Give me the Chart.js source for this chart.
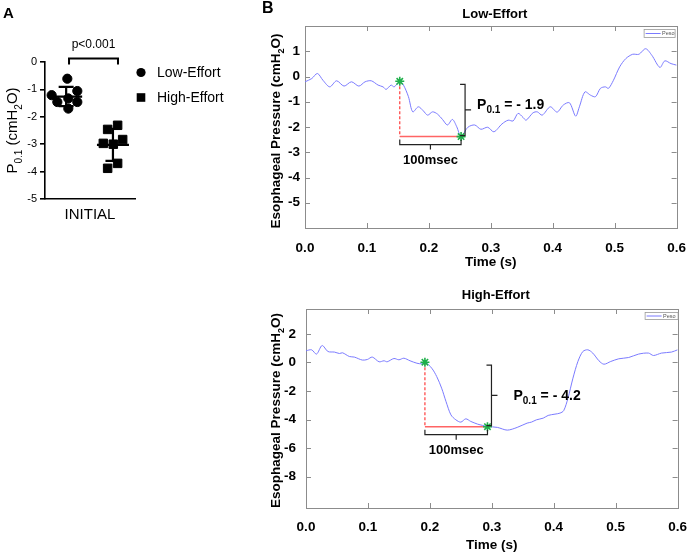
<!DOCTYPE html>
<html>
<head>
<meta charset="utf-8">
<script src="https://cdn.jsdelivr.net/npm/chart.js@4.4.1/dist/chart.umd.min.js"></script>
<style>
  body { margin: 0; background: #fff; }
  #wrap { position: relative; width: 698px; height: 558px; overflow: hidden; font-family: Arial, "Liberation Sans", sans-serif; }
  canvas { position: absolute; }
  .panel { position: absolute; font-weight: bold; color: #000; }
</style>
</head>
<body>
<div id="wrap">
  <canvas id="chartA" width="250" height="240" style="left:0;top:0"></canvas>
  <canvas id="chartLow" width="448" height="270" style="left:250px;top:0"></canvas>
  <canvas id="chartHigh" width="448" height="288" style="left:250px;top:270px"></canvas>
  <div class="panel" style="left:3px;top:4px;font-size:15px">A</div>
  <div class="panel" style="left:262px;top:-1px;font-size:16px">B</div>
</div>
<script>
var FONT = 'Arial, "Liberation Sans", Helvetica, sans-serif';

// ---- panel A: P0.1 per subject ----
var groupLabels = ['Low-Effort', 'High-Effort'];
var lowEffortP01 = [-0.61, -1.21, -1.06, -1.33, -1.46, -1.46, -1.70];
var highEffortP01 = [-2.31, -2.46, -2.83, -2.97, -3.0, -3.70, -3.88];
var lowJitterX = [0.248, 0.074, 0.359, 0.259, 0.137, 0.359, 0.259];
var highJitterX = [0.807, 0.696, 0.863, 0.648, 0.759, 0.807, 0.696];
var groupX = [0.235, 0.755];
var panelATicks = [0, -1, -2, -3, -4, -5];
var panelACategory = 'INITIAL';
var pValueText = 'p<0.001';

// ---- panel B: esophageal pressure traces ----
var timeTicks = [0, 0.1, 0.2, 0.3, 0.4, 0.5, 0.6];

var lowTime = [0, 0.011, 0.020, 0.029, 0.040, 0.051, 0.063, 0.075, 0.087, 0.097, 0.107, 0.118, 0.126, 0.131, 0.139,
  0.144, 0.153, 0.159, 0.167, 0.174, 0.183, 0.191, 0.198, 0.206, 0.214, 0.222, 0.230, 0.238, 0.245, 0.252, 0.263,
  0.274, 0.284, 0.295, 0.305, 0.318, 0.328, 0.336, 0.344, 0.352, 0.357, 0.368, 0.375, 0.383, 0.396, 0.407, 0.417,
  0.427, 0.437, 0.443, 0.452, 0.461, 0.469, 0.477, 0.485, 0.490, 0.498, 0.508, 0.518, 0.529, 0.539, 0.550, 0.560,
  0.573, 0.581, 0.591, 0.600];
var lowPeso = [-0.21, -0.08, 0.12, -0.15, -0.41, -0.17, -0.38, -0.21, -0.38, -0.21, -0.17, -0.34, -0.41, -0.51, -0.34,
  -0.41, -0.19, -0.34, -0.8, -1.4, -1.2, -1.36, -1.53, -1.4, -1.49, -1.7, -1.92, -1.7, -1.99, -2.38, -2.01,
  -1.92, -2.09, -2.01, -2.19, -1.88, -1.73, -1.76, -1.46, -1.62, -1.73, -1.44, -1.40, -1.53, -1.2, -1.41, -1.13,
  -1.04, -1.57, -1.2, -0.61, -0.74, -0.8, -0.47, -0.41, -0.47, -0.15, 0.38, 0.71, 0.88, 0.88, 1.1, 0.84,
  0.36, 0.62, 0.51, 0.45];
var lowMarkT = [0.153, 0.252];
var lowMarkP = [-0.19, -2.38];
var lowTicks = [1, 0, -1, -2, -3, -4, -5];

var highTime = [0, 0.009, 0.017, 0.026, 0.0355, 0.046, 0.054, 0.059, 0.07, 0.078, 0.091, 0.099, 0.107, 0.118, 0.126,
  0.131, 0.142, 0.15, 0.158, 0.168, 0.179, 0.187, 0.192, 0.203, 0.211, 0.219, 0.226, 0.234, 0.242, 0.25,
  0.258, 0.266, 0.277, 0.285, 0.293, 0.309, 0.325, 0.341, 0.357, 0.364, 0.372, 0.383, 0.391, 0.402, 0.41,
  0.416, 0.423, 0.431, 0.439, 0.447, 0.455, 0.463, 0.473, 0.481, 0.492, 0.505, 0.521, 0.537, 0.553, 0.561,
  0.574, 0.59, 0.6];
var highPeso = [0.82, 0.89, 0.59, 1.19, 0.77, 0.73, 0.63, 0.68, 0.42, 0.38, 0.17, 0.21, 0.38, 0.05, 0.12,
  0.05, 0.28, 0.19, 0.3, 0.12, -0.05, -0.09, 0.03, -0.4, -0.98, -1.8, -2.73, -3.67, -4.02, -4.18,
  -3.95, -4.13, -4.32, -4.41, -4.48, -4.55, -4.74, -4.55, -4.25, -4.18, -4.02, -3.9, -3.71, -3.62, -3.55,
  -3.38, -2.5, -1.1, 0.07, 0.77, 0.89, 0.66, 0.12, -0.12, 0.07, 0.26, 0.35, 0.59, 0.66, 0.49,
  0.66, 0.73, 0.89];
var highMarkT = [0.192, 0.293];
var highMarkP = [0.02, -4.5];
var highTicks = [2, 0, -2, -4, -6, -8];

var p01Labels = ['- 1.9', '- 4.2'];

function mean(a) { return a.reduce(function (s, v) { return s + v; }, 0) / a.length; }
function sd(a) {
  var m = mean(a);
  return Math.sqrt(a.reduce(function (s, v) { return s + (v - m) * (v - m); }, 0) / (a.length - 1));
}

// text with subscripts; parts = [[text, isSub], ...], y is the middle of the capitals
function drawRich(ctx, parts, x, y, size, weight, align, rotate) {
  ctx.save();
  ctx.translate(x, y);
  if (rotate) ctx.rotate(-Math.PI / 2);
  var sub = Math.round(size * 0.68);
  var w = 0;
  parts.forEach(function (p) {
    ctx.font = weight + ' ' + (p[1] ? sub : size) + 'px ' + FONT;
    w += ctx.measureText(p[0]).width;
  });
  var cx = align === 'center' ? -w / 2 : 0;
  var base = size * 0.36;
  ctx.fillStyle = '#000';
  ctx.textAlign = 'left';
  ctx.textBaseline = 'alphabetic';
  parts.forEach(function (p) {
    ctx.font = weight + ' ' + (p[1] ? sub : size) + 'px ' + FONT;
    ctx.fillText(p[0], cx, p[1] ? base + size * 0.28 : base);
    cx += ctx.measureText(p[0]).width;
  });
  ctx.restore();
}

// mean/SD bars, significance bracket, legend and y title of panel A
var dotPlugin = {
  id: 'dotDeco',
  afterDraw: function (chart) {
    var ctx = chart.ctx, a = chart.chartArea, x = chart.scales.x, y = chart.scales.y;
    ctx.save();
    ctx.strokeStyle = '#000';
    ctx.lineWidth = 2.2;
    [lowEffortP01, highEffortP01].forEach(function (vals, g) {
      var m = mean(vals), s = sd(vals);
      var cx = x.getPixelForValue(groupX[g]);
      var ym = y.getPixelForValue(m), yt = y.getPixelForValue(m + s), yb = y.getPixelForValue(m - s);
      ctx.beginPath();
      ctx.moveTo(cx - 16, ym); ctx.lineTo(cx + 16, ym);
      ctx.moveTo(cx, yt); ctx.lineTo(cx, yb);
      ctx.moveTo(cx - 7.5, yt); ctx.lineTo(cx + 7.5, yt);
      ctx.moveTo(cx - 7.5, yb); ctx.lineTo(cx + 7.5, yb);
      ctx.stroke();
    });

    // p value bracket
    var bx0 = x.getPixelForValue(0.267), bx1 = x.getPixelForValue(0.811);
    var by = a.top - 3.5;
    ctx.lineWidth = 2;
    ctx.beginPath();
    ctx.moveTo(bx0, by + 6); ctx.lineTo(bx0, by); ctx.lineTo(bx1, by); ctx.lineTo(bx1, by + 6);
    ctx.stroke();
    ctx.fillStyle = '#000';
    ctx.font = '12px ' + FONT;
    ctx.textAlign = 'center';
    ctx.textBaseline = 'middle';
    ctx.fillText(pValueText, (bx0 + bx1) / 2, a.top - 17.5);

    // legend
    var lx = a.right + 6;
    ctx.beginPath();
    ctx.arc(lx, a.top + 10.5, 4.6, 0, Math.PI * 2);
    ctx.fill();
    ctx.fillRect(lx - 4.3, a.top + 35.5 - 4.3, 8.6, 8.6);
    ctx.font = '14px ' + FONT;
    ctx.textAlign = 'left';
    ctx.fillText(chart.data.datasets[0].label, a.right + 22, a.top + 11);
    ctx.fillText(chart.data.datasets[1].label, a.right + 22, a.top + 36);
    ctx.restore();

    drawRich(ctx, [['P', 0], ['0.1', 1], [' (cmH', 0], ['2', 1], ['O)', 0]],
      a.left - 33, (a.top + a.bottom) / 2, 15, 'normal', 'center', true);
  }
};

new Chart(document.getElementById('chartA'), {
  type: 'scatter',
  data: {
    datasets: [
      {
        label: groupLabels[0],
        data: lowEffortP01.map(function (v, i) { return { x: lowJitterX[i], y: v }; }),
        pointStyle: 'circle', radius: 4.6, backgroundColor: '#000', borderColor: '#000'
      },
      {
        label: groupLabels[1],
        data: highEffortP01.map(function (v, i) { return { x: highJitterX[i], y: v }; }),
        pointStyle: 'rect', radius: 6, backgroundColor: '#000', borderColor: '#000'
      }
    ]
  },
  options: {
    responsive: false,
    animation: false,
    events: [],
    layout: { padding: { top: 62, right: 115, left: 0, bottom: 0 } },
    plugins: { legend: { display: false }, tooltip: { enabled: false } },
    scales: {
      x: {
        type: 'linear', min: 0, max: 1,
        afterBuildTicks: function (s) { s.ticks = [{ value: 0.5 }]; },
        afterFit: function (s) { s.height = 41; },
        ticks: { callback: function () { return panelACategory; }, font: { family: FONT, size: 15 }, color: '#000', padding: 7, autoSkip: false, maxRotation: 0 },
        grid: { display: false, drawTicks: false },
        border: { color: '#000', width: 1.6 }
      },
      y: {
        min: -5, max: 0,
        afterBuildTicks: function (s) { s.ticks = panelATicks.map(function (v) { return { value: v }; }); },
        afterFit: function (s) { s.width = 45; },
        ticks: { font: { family: FONT, size: 11 }, color: '#000', padding: 3 },
        grid: { drawOnChartArea: false, drawTicks: true, tickLength: 5, color: '#000', lineWidth: 1.6 },
        border: { color: '#000', width: 1.6 }
      }
    }
  },
  plugins: [dotPlugin]
});

// box, inner ticks, title, P0.1 annotation and the small Peso legend of panel B
var tracePlugin = {
  id: 'traceDeco',
  beforeDatasetsDraw: function (chart) {
    var ctx = chart.ctx, a = chart.chartArea, x = chart.scales.x, y = chart.scales.y;
    ctx.save();
    ctx.strokeStyle = '#8c8c8c';
    ctx.lineWidth = 1;
    ctx.strokeRect(Math.round(a.left) + 0.5, Math.round(a.top) + 0.5, Math.round(a.width), Math.round(a.height));
    ctx.beginPath();
    x.ticks.forEach(function (t) {
      var px = Math.round(x.getPixelForValue(t.value)) + 0.5;
      ctx.moveTo(px, a.bottom); ctx.lineTo(px, a.bottom - 5);
      ctx.moveTo(px, a.top); ctx.lineTo(px, a.top + 5);
    });
    y.ticks.forEach(function (t) {
      var py = Math.round(y.getPixelForValue(t.value)) + 0.5;
      ctx.moveTo(a.left, py); ctx.lineTo(a.left + 5, py);
      ctx.moveTo(a.right, py); ctx.lineTo(a.right - 5, py);
    });
    ctx.stroke();
    ctx.restore();
  },
  afterDraw: function (chart, args, o) {
    var ctx = chart.ctx, a = chart.chartArea, x = chart.scales.x, y = chart.scales.y;
    var x0 = x.getPixelForValue(o.markT[0]), x1 = x.getPixelForValue(o.markT[1]);
    var y0 = y.getPixelForValue(o.markP[0]), y1 = y.getPixelForValue(o.markP[1]);
    var xm = (x0 + x1) / 2;
    ctx.save();
    ctx.fillStyle = '#000';
    ctx.font = 'bold 13px ' + FONT;
    ctx.textAlign = 'center';
    ctx.textBaseline = 'middle';
    ctx.fillText(o.title, (a.left + a.right) / 2 + 4, o.titleY);

    ctx.strokeStyle = '#222';
    ctx.lineWidth = 1.2;
    ctx.beginPath();
    ctx.moveTo(x0, y1 + 3); ctx.lineTo(x0, y1 + 8); ctx.lineTo(x1, y1 + 8); ctx.lineTo(x1, y1 + 3);
    ctx.moveTo(xm, y1 + 8); ctx.lineTo(xm, y1 + 13);
    var bx = x1 + 4, top = y0 + 3, bot = y1 - 1, mid = (top + bot) / 2;
    ctx.moveTo(bx - 5, top); ctx.lineTo(bx, top); ctx.lineTo(bx, bot); ctx.lineTo(bx - 5, bot);
    ctx.moveTo(bx, mid); ctx.lineTo(bx + 6, mid);
    ctx.stroke();
    ctx.fillText('100msec', xm, y1 + 24);
    ctx.restore();

    drawRich(ctx, [['P', 0], ['0.1', 1], [' = ' + o.label, 0]], bx + o.textGap, mid + o.textDy, 14, 'bold', 'left', false);

    // Peso legend box
    var lb = o.legendBox;
    var lx = a.right - lb[0] - lb[2], ly = a.top + lb[1];
    ctx.save();
    ctx.fillStyle = '#fff';
    ctx.fillRect(lx, ly, lb[2], lb[3]);
    ctx.strokeStyle = '#9a9a9a';
    ctx.lineWidth = 0.8;
    ctx.strokeRect(lx + 0.5, ly + 0.5, lb[2], lb[3]);
    ctx.strokeStyle = '#7b7bff';
    ctx.lineWidth = 1;
    ctx.beginPath();
    ctx.moveTo(lx + 2, ly + lb[3] / 2 + 0.5); ctx.lineTo(lx + 17, ly + lb[3] / 2 + 0.5);
    ctx.stroke();
    ctx.fillStyle = '#555';
    ctx.font = '5.5px ' + FONT;
    ctx.textBaseline = 'middle';
    ctx.fillText(chart.data.datasets[1].label, lx + 18.5, ly + lb[3] / 2 + 0.5);
    ctx.restore();

    drawRich(ctx, [['Esophageal Pressure (cmH', 0], ['2', 1], ['O)', 0]],
      a.left - o.yTitleGap, (a.top + a.bottom) / 2 + o.yTitleDy, 13.5, 'bold', 'center', true);
  }
};

function traceChart(id, o) {
  return new Chart(document.getElementById(id), {
    type: 'scatter',
    data: {
      datasets: [
        {
          label: 'P0.1 points',
          data: o.markT.map(function (t, i) { return { x: t, y: o.markP[i] }; }),
          pointStyle: 'star', radius: 4.5, borderColor: '#1fb04a', backgroundColor: '#1fb04a', borderWidth: 1.6
        },
        {
          label: 'Peso',
          data: o.time.map(function (t, i) { return { x: t, y: o.peso[i] }; }),
          showLine: true, pointRadius: 0, borderColor: '#7b7bff', borderWidth: 1, tension: 0.3
        },
        {
          label: 'drop',
          data: [{ x: o.markT[0], y: o.markP[0] }, { x: o.markT[0], y: o.markP[1] }],
          showLine: true, pointRadius: 0, borderColor: '#ff3b3b', borderWidth: 1.2, borderDash: [3, 2]
        },
        {
          label: '100 ms',
          data: [{ x: o.markT[0], y: o.markP[1] }, { x: o.markT[1], y: o.markP[1] }],
          showLine: true, pointRadius: 0, borderColor: '#ff6464', borderWidth: 1.5
        }
      ]
    },
    options: {
      responsive: false,
      animation: false,
      events: [],
      layout: { padding: { top: o.padTop, right: o.padRight, left: 0, bottom: 0 } },
      plugins: {
        legend: { display: false },
        tooltip: { enabled: false },
        title: { display: false },
        traceDeco: o
      },
      scales: {
        x: {
          type: 'linear', min: 0, max: 0.6,
          afterBuildTicks: function (s) { s.ticks = timeTicks.map(function (v) { return { value: v }; }); },
          afterFit: function (s) { s.height = o.xHeight; },
          ticks: {
            callback: function (v) { return v.toFixed(1); },
            font: { family: FONT, size: 13.5, weight: 'bold' }, color: '#000',
            padding: o.xTickPad, autoSkip: false, maxRotation: 0
          },
          grid: { display: false, drawTicks: false },
          border: { display: false },
          title: {
            display: true, text: 'Time (s)', color: '#000',
            font: { family: FONT, size: 13.5, weight: 'bold' },
            padding: { top: 0, bottom: o.xTitlePad }
          }
        },
        y: {
          min: o.yMin, max: o.yMax,
          afterBuildTicks: function (s) { s.ticks = o.yTicks.map(function (v) { return { value: v }; }); },
          afterFit: function (s) { s.width = o.yWidth; },
          ticks: { font: { family: FONT, size: 13.5, weight: 'bold' }, color: '#000', padding: o.yTickPad },
          grid: { display: false, drawTicks: false },
          border: { display: false }
        }
      }
    },
    plugins: [tracePlugin]
  });
}

traceChart('chartLow', {
  title: 'Low-Effort', time: lowTime, peso: lowPeso, markT: lowMarkT, markP: lowMarkP,
  yTicks: lowTicks, yMin: -6, yMax: 2, label: p01Labels[0],
  yWidth: 55, padRight: 9, padTop: 26, titleY: 14, xHeight: 42,
  xTickPad: 12, xTitlePad: 0, yTickPad: 5, textGap: 12, textDy: -6,
  legendBox: [2, 3, 31, 8], yTitleGap: 30, yTitleDy: 4
});

traceChart('chartHigh', {
  title: 'High-Effort', time: highTime, peso: highPeso, markT: highMarkT, markP: highMarkP,
  yTicks: highTicks, yMin: -10.2, yMax: 3.75, label: p01Labels[1],
  yWidth: 56, padRight: 15, padTop: 39, titleY: 25, xHeight: 50,
  xTickPad: 11, xTitlePad: 5, yTickPad: 10, textGap: 22, textDy: 0,
  legendBox: [0, 3, 33, 7], yTitleGap: 31, yTitleDy: 2
});
</script>
</body>
</html>
